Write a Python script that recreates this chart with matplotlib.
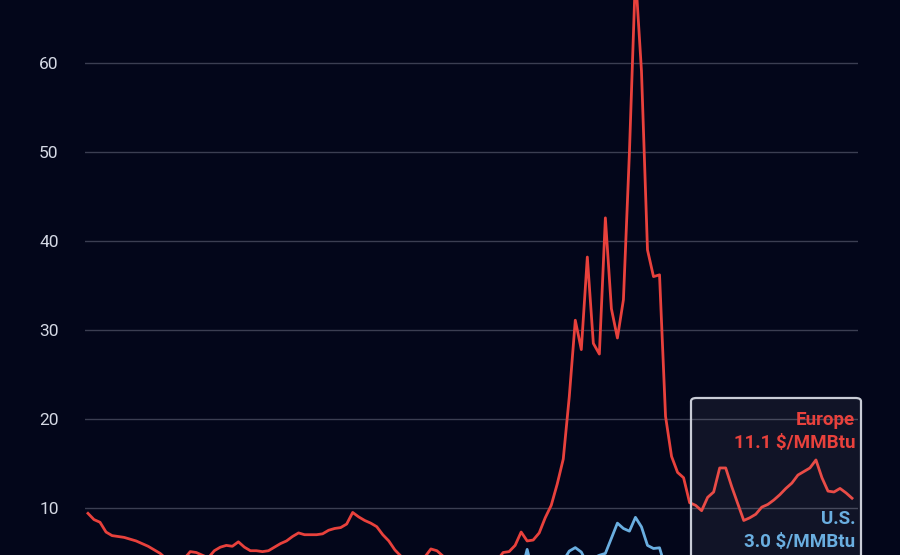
import matplotlib
matplotlib.use("Agg")
import matplotlib.pyplot as plt
from matplotlib.patches import FancyBboxPatch

# Monthly prices, Jan 2015 - Aug 2025, $/MMBtu
months = list(range(128))

europe = [
    9.4, 8.7, 8.4, 7.3, 6.9, 6.8, 6.7, 6.5, 6.3, 6.0, 5.7, 5.3,        # 2015
    4.9, 4.3, 4.2, 4.1, 4.3, 5.1, 5.0, 4.7, 4.4, 5.2, 5.6, 5.8,        # 2016
    5.7, 6.2, 5.6, 5.2, 5.2, 5.1, 5.2, 5.6, 6.0, 6.3, 6.8, 7.2,        # 2017
    7.0, 7.0, 7.0, 7.1, 7.5, 7.7, 7.8, 8.2, 9.5, 9.0, 8.6, 8.3,        # 2018
    7.9, 7.0, 6.3, 5.3, 4.6, 3.8, 3.6, 3.0, 4.5, 5.4, 5.2, 4.6,        # 2019
    3.6, 3.2, 3.0, 2.4, 1.6, 1.8, 1.8, 2.9, 4.1, 5.0, 5.1, 5.8,        # 2020
    7.3, 6.3, 6.4, 7.2, 8.9, 10.3, 12.7, 15.5, 22.5, 31.1, 27.8, 38.2, # 2021
    28.5, 27.3, 42.6, 32.4, 29.1, 33.4, 50.0, 70.0, 59.1, 39.0, 36.0, 36.2,  # 2022
    20.3, 15.8, 14.0, 13.4, 10.6, 10.3, 9.7, 11.2, 11.8, 14.5, 14.5, 12.4,   # 2023
    10.5, 8.6, 8.9, 9.3, 10.1, 10.4, 10.9, 11.5, 12.2, 12.8, 13.7, 14.1,     # 2024
    14.5, 15.4, 13.4, 11.9, 11.8, 12.2, 11.7, 11.1,                          # 2025
]

us = [
    2.99, 2.87, 2.83, 2.61, 2.85, 2.78, 2.84, 2.77, 2.66, 2.34, 2.09, 1.93,
    2.28, 1.99, 1.73, 1.92, 1.92, 2.59, 2.82, 2.82, 2.99, 2.98, 2.55, 3.59,
    3.30, 2.85, 2.88, 3.10, 3.15, 2.98, 2.98, 2.90, 2.98, 2.88, 3.01, 2.82,
    3.87, 2.67, 2.69, 2.80, 2.80, 2.97, 2.83, 2.96, 3.00, 3.28, 4.09, 4.04,
    3.11, 2.69, 2.95, 2.65, 2.64, 2.40, 2.37, 2.22, 2.56, 2.33, 2.65, 2.22,
    2.02, 1.91, 1.79, 1.74, 1.75, 1.63, 1.77, 2.30, 1.92, 2.39, 2.61, 2.59,
    2.71, 5.35, 2.62, 2.66, 2.91, 3.26, 3.84, 4.07, 5.16, 5.55, 5.05, 3.76,
    4.38, 4.69, 4.90, 6.60, 8.30, 7.70, 7.40, 8.95, 7.88, 5.80, 5.45, 5.53,
    3.27, 2.38, 2.31, 2.16, 2.15, 2.18, 2.55, 2.58, 2.64, 2.98, 2.71, 2.52,
    3.18, 1.72, 1.60, 1.60, 2.12, 2.48, 2.06, 1.99, 2.28, 2.20, 2.12, 3.01,
    4.13, 4.19, 4.13, 3.42, 3.12, 3.02, 3.20, 3.00,
]

yticks = [10, 20, 30, 40, 50, 60]
ytick_labels = ["10", "20", "30", "40", "50", "60"]
europe_label = ["Europe", "11.1 $/MMBtu"]
us_label = ["U.S.", "3.0 $/MMBtu"]

BG = "#03061a"
RED = "#e8413c"
BLUE = "#6aaee0"
FONT = ["Liberation Sans Narrow", "Roboto", "DejaVu Sans"]

fig = plt.figure(figsize=(9, 5.55), dpi=100, facecolor=BG)
ax = fig.add_axes([0.0944, 0.0, 0.859, 1.0])
ax.set_facecolor(BG)

ax.set_xlim(-0.5, 128.0)
ax.set_ylim(4.72, 67.08)

for s in ax.spines.values():
    s.set_visible(False)

ax.set_yticks(yticks)
ax.set_yticklabels(ytick_labels, family=FONT, fontsize=12.5, color="#d4d8e4")
ax.tick_params(axis="y", length=0, pad=19)
ax.set_xticks([])
ax.grid(axis="y", color="#3b3e52", linewidth=1.0)
ax.set_axisbelow(True)

ax.plot(months, us, color=BLUE, linewidth=2.0, solid_joinstyle="round", zorder=3)
ax.plot(months, europe, color=RED, linewidth=2.0, solid_joinstyle="round", zorder=4)

# highlight box (figure pixel coordinates)
box = FancyBboxPatch((691 / 900, -0.05), (861 - 691) / 900, (555 - 398) / 555 + 0.05,
                     boxstyle="round,pad=0,rounding_size=0.006",
                     transform=fig.transFigure, facecolor="#ffffff", alpha=0.06,
                     edgecolor="none", zorder=2)
fig.add_artist(box)
box2 = FancyBboxPatch((691 / 900, -0.05), (861 - 691) / 900, (555 - 398) / 555 + 0.05,
                      boxstyle="round,pad=0,rounding_size=0.006",
                      transform=fig.transFigure, facecolor="none",
                      edgecolor="#c9ccd6", linewidth=1.6, zorder=5)
fig.add_artist(box2)

tx = 855 / 900
fig.text(tx, 1 - 420 / 555, europe_label[0], ha="right", va="center", color=RED,
         family=FONT, fontsize=13.5, fontweight="bold", zorder=6)
fig.text(tx, 1 - 443 / 555, europe_label[1], ha="right", va="center", color=RED,
         family=FONT, fontsize=13.5, fontweight="bold", zorder=6)
fig.text(tx, 1 - 519 / 555, us_label[0], ha="right", va="center", color=BLUE,
         family=FONT, fontsize=13.5, fontweight="bold", zorder=6)
fig.text(tx, 1 - 542 / 555, us_label[1], ha="right", va="center", color=BLUE,
         family=FONT, fontsize=13.5, fontweight="bold", zorder=6)

fig.savefig("out.png", dpi=100, facecolor=BG)
